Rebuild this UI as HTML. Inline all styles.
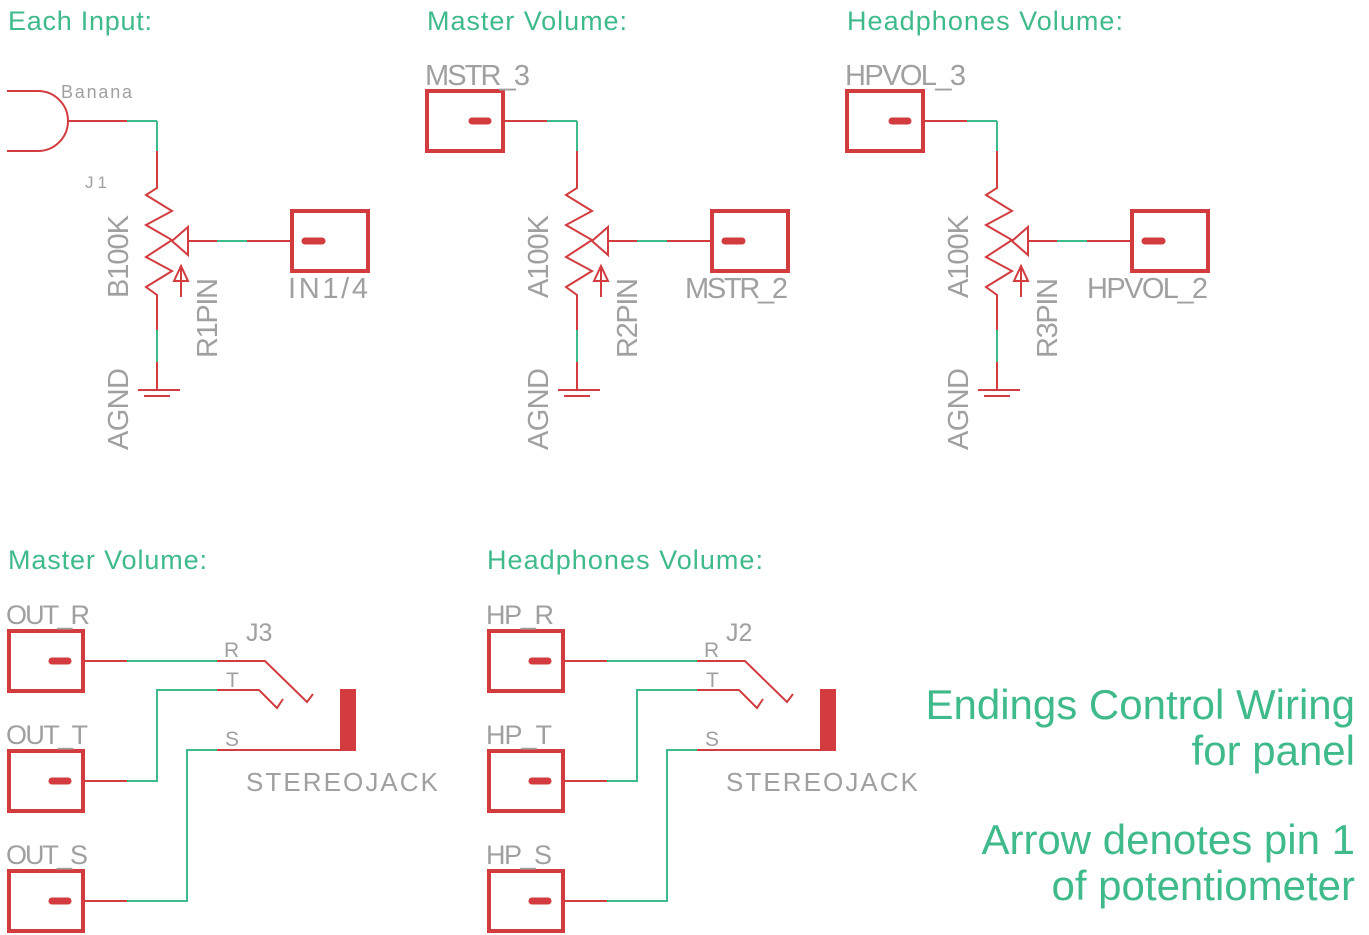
<!DOCTYPE html>
<html><head><meta charset="utf-8"><style>
html,body{margin:0;padding:0;background:#fff;width:1369px;height:935px;overflow:hidden}
svg{display:block}
.r{stroke:#d23c3f;fill:none;stroke-width:2}
.g{stroke:#3fba8a;fill:none;stroke-width:2}
.box{stroke:#d23c3f;fill:none;stroke-width:4}
.pad{stroke:#d23c3f;stroke-width:7;stroke-linecap:round}
.lbl{fill:#a0a0a0;font-family:"Liberation Sans",sans-serif}
.h{fill:#3fba8a;font-family:"Liberation Sans",sans-serif}
</style></head><body>
<svg width="1369" height="935" viewBox="0 0 1369 935">
<defs>
<g id="pot">
  <polyline class="r" points="157,151 157,188 146,195 172,211 146,225 172,240 146,257 172,271 146,287 157,295 157,330"/>
  <polyline class="g" points="157,330 157,362"/>
  <polyline class="r" points="157,362 157,390"/>
  <line class="r" x1="138" y1="390" x2="180" y2="390"/>
  <line class="r" x1="144" y1="396" x2="170" y2="396"/>
  <polygon class="r" points="172,241 188,227 188,255"/>
  <line class="r" x1="188" y1="241" x2="217" y2="241"/>
  <line class="g" x1="217" y1="241" x2="247" y2="241"/>
  <line class="r" x1="247" y1="241" x2="292" y2="241"/>
  <line class="r" x1="181" y1="297" x2="181" y2="266"/>
  <polygon class="r" points="174,281 181,266 188,281"/>
  <rect class="box" x="292" y="211" width="76" height="60"/>
  <line class="pad" x1="305" y1="241" x2="322" y2="241"/>
  <line class="g" x1="127" y1="121" x2="157" y2="121"/>
  <line class="g" x1="157" y1="121" x2="157" y2="151"/>
</g>
<g id="jack">
  <rect class="box" x="9" y="631" width="74" height="60"/>
  <rect class="box" x="9" y="751" width="74" height="60"/>
  <rect class="box" x="9" y="871" width="74" height="60"/>
  <line class="pad" x1="52" y1="661" x2="68" y2="661"/>
  <line class="pad" x1="52" y1="781" x2="68" y2="781"/>
  <line class="pad" x1="52" y1="901" x2="68" y2="901"/>
  <line class="r" x1="83" y1="661" x2="127" y2="661"/>
  <line class="g" x1="127" y1="661" x2="217" y2="661"/>
  <polyline class="r" points="217,661 265,661 307,702 313,694"/>
  <line class="r" x1="83" y1="781" x2="127" y2="781"/>
  <polyline class="g" points="127,781 157,781 157,690 217,690"/>
  <polyline class="r" points="217,690 259,690 277,708 283,699"/>
  <line class="r" x1="83" y1="901" x2="127" y2="901"/>
  <polyline class="g" points="127,901 187,901 187,750 217,750"/>
  <line class="r" x1="217" y1="750" x2="340" y2="750"/>
  <rect x="340" y="689" width="16" height="62" fill="#d23c3f"/>
  <text class="lbl" x="224" y="657" font-size="21">R</text>
  <text class="lbl" x="226" y="687" font-size="21">T</text>
  <text class="lbl" x="225" y="746" font-size="21">S</text>
  <text class="lbl" x="246" y="791" font-size="26" textLength="192">STEREOJACK</text>
</g>
</defs>

<!-- headings -->
<text class="h" x="8" y="30" font-size="27" textLength="144">Each Input:</text>
<text class="h" x="427" y="30" font-size="27" textLength="200">Master Volume:</text>
<text class="h" x="847" y="30" font-size="27" textLength="276">Headphones Volume:</text>
<text class="h" x="8" y="569" font-size="27" textLength="199">Master Volume:</text>
<text class="h" x="487" y="569" font-size="27" textLength="276">Headphones Volume:</text>

<!-- block 1 -->
<g>
  <path class="r" d="M7,91 L38,91 A30,30 0 0 1 38,151 L7,151"/>
  <line class="r" x1="67" y1="121" x2="127" y2="121"/>
  <use href="#pot"/>
  <text class="lbl" x="61" y="98" font-size="18" textLength="71">Banana</text>
  <text class="lbl" x="85" y="188" font-size="17" textLength="22">J1</text>
  <text class="lbl" transform="translate(128,298) rotate(-90)" font-size="29" textLength="83">B100K</text>
  <text class="lbl" transform="translate(217,358) rotate(-90)" font-size="29" textLength="80">R1PIN</text>
  <text class="lbl" transform="translate(128,450) rotate(-90)" font-size="29" textLength="82">AGND</text>
  <text class="lbl" x="288" y="298" font-size="29" textLength="80">IN1/4</text>
</g>

<!-- block 2 -->
<g transform="translate(420,0)">
  <rect class="box" x="7" y="91" width="76" height="60"/>
  <line class="pad" x1="52" y1="121" x2="68" y2="121"/>
  <line class="r" x1="83" y1="121" x2="127" y2="121"/>
  <use href="#pot"/>
  <text class="lbl" x="5" y="85" font-size="29" textLength="105">MSTR_3</text>
  <text class="lbl" transform="translate(128,298) rotate(-90)" font-size="29" textLength="83">A100K</text>
  <text class="lbl" transform="translate(217,358) rotate(-90)" font-size="29" textLength="80">R2PIN</text>
  <text class="lbl" transform="translate(128,450) rotate(-90)" font-size="29" textLength="82">AGND</text>
  <text class="lbl" x="265" y="298" font-size="29" textLength="103">MSTR_2</text>
</g>

<!-- block 3 -->
<g transform="translate(840,0)">
  <rect class="box" x="7" y="91" width="76" height="60"/>
  <line class="pad" x1="52" y1="121" x2="68" y2="121"/>
  <line class="r" x1="83" y1="121" x2="127" y2="121"/>
  <use href="#pot"/>
  <text class="lbl" x="5" y="85" font-size="29" textLength="121">HPVOL_3</text>
  <text class="lbl" transform="translate(128,298) rotate(-90)" font-size="29" textLength="83">A100K</text>
  <text class="lbl" transform="translate(217,358) rotate(-90)" font-size="29" textLength="80">R3PIN</text>
  <text class="lbl" transform="translate(128,450) rotate(-90)" font-size="29" textLength="82">AGND</text>
  <text class="lbl" x="247" y="298" font-size="29" textLength="121">HPVOL_2</text>
</g>

<!-- bottom blocks -->
<g>
  <use href="#jack"/>
  <text class="lbl" x="6" y="624" font-size="27" textLength="84">OUT_R</text>
  <text class="lbl" x="6" y="744" font-size="27" textLength="82">OUT_T</text>
  <text class="lbl" x="6" y="864" font-size="27" textLength="82">OUT_S</text>
  <text class="lbl" x="246" y="641" font-size="25">J3</text>
</g>
<g transform="translate(480,0)">
  <use href="#jack"/>
  <text class="lbl" x="6" y="624" font-size="27" textLength="68">HP_R</text>
  <text class="lbl" x="6" y="744" font-size="27" textLength="66">HP_T</text>
  <text class="lbl" x="6" y="864" font-size="27" textLength="66">HP_S</text>
  <text class="lbl" x="246" y="641" font-size="25">J2</text>
</g>

<!-- notes -->
<g text-anchor="end">
  <text class="h" x="1355" y="719" font-size="42">Endings Control Wiring</text>
  <text class="h" x="1355" y="765" font-size="42">for panel</text>
  <text class="h" x="1355" y="854" font-size="42">Arrow denotes pin 1</text>
  <text class="h" x="1355" y="900" font-size="42">of potentiometer</text>
</g>
</svg>
</body></html>
